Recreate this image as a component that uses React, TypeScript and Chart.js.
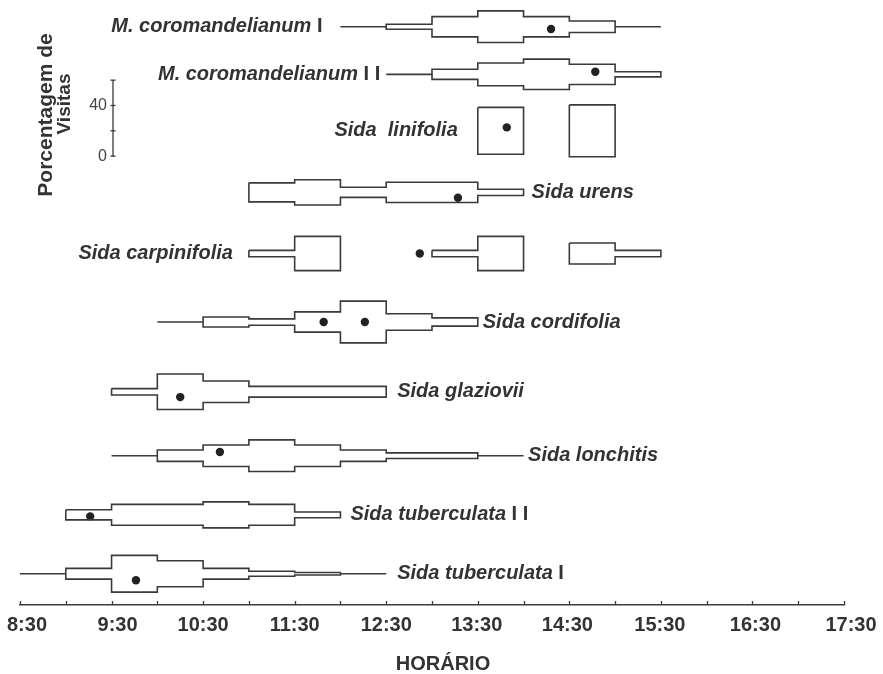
import { useEffect, useRef } from "react";
import { Chart, registerables } from "chart.js";

Chart.register(...registerables);

// Start of each half-hour observation slot, in decimal hours
const SLOT_STARTS = [8.5, 9, 9.5, 10, 10.5, 11, 11.5, 12, 12.5, 13, 13.5, 14, 14.5, 15, 15.5, 16, 16.5, 17];
const SLOT_LENGTH = 0.5;

// Hourly labels on the time axis
const TIME_LABELS = ["8:30", "9:30", "10:30", "11:30", "12:30", "13:30", "14:30", "15:30", "16:30", "17:30"];

// Percentage of visits in each slot (0 = flowers open, no visits; null = no flowers)
const _ = null;
const coromandelianumI = [_, _, _, _, _, _, _, 0, 4, 16, 25, 16, 9, 0, _, _, _, _];
const coromandelianumII = [_, _, _, _, _, _, _, _, 0, 8, 18, 24, 16, 4, _, _, _, _];
const linifolia = [_, _, _, _, _, _, _, _, _, _, 37, _, 41, _, _, _, _, _];
const urens = [_, _, _, _, _, 15, 20, 8, 16, 16, 5, _, _, _, _, _, _, _];
const carpinifolia = [_, _, _, _, _, 5, 27, _, _, 5, 27, _, 16.5, 5, _, _, _, _];
const cordifolia = [_, _, _, 0, 8, 5, 16, 33, 13, 6.5, _, _, _, _, _, _, _, _];
const glaziovii = [_, _, 5, 28, 17, 8.5, 8.5, 8.5, _, _, _, _, _, _, _, _, _, _];
const lonchitis = [_, _, 0, 9, 17, 25, 17, 9, 4.5, 4.5, 0, _, _, _, _, _, _, _];
const tuberculataII = [_, 8, 16.5, 16.5, 20.5, 16.5, 4.5, _, _, _, _, _, _, _, _, _, _, _];
const tuberculataI = [0, 8.5, 29, 20.5, 8.5, 4, 2, 0, _, _, _, _, _, _, _, _, _, _];

const VISITS = [
  coromandelianumI, coromandelianumII, linifolia, urens, carpinifolia,
  cordifolia, glaziovii, lonchitis, tuberculataII, tuberculataI,
];

const SPECIES = [
  "M. coromandelianum", "M. coromandelianum", "Sida  linifolia", "Sida urens", "Sida carpinifolia",
  "Sida cordifolia", "Sida glaziovii", "Sida lonchitis", "Sida tuberculata", "Sida tuberculata",
];
const POPULATION = ["I", "I I", "", "", "", "", "", "", "I I", "I"];

// Mean visiting time(s) per species
const MEAN_TIMES = [
  ["14:18"], ["14:47"], ["13:49"], ["13:17"], ["12:52"],
  ["11:49", "12:16"], ["10:15"], ["10:41"], ["9:16"], ["9:46"],
];

// Layout (vertical units are percent of visits, measured up from the time axis)
const Y_MAX = 474.5;
const ROW_BASE = [456.7, 419.1, 374.5, 325.9, 277.6, 223.5, 168.4, 117.9, 71.2, 24.7];
const LABEL_SIDE = ["left", "left", "left", "right", "left", "right", "right", "right", "right", "right"];
const LABEL_GAP = [18, 6, 20, 8, 16, 5, 11, 4.5, 10, 11];
const DOT_SHIFT = [-1.8, 2.1, 2.7, -4.3, 0, 0, -4.2, 2.9, -1.2, -5.1];
// horizontal nudge (px) of each time label from its tick
const TIME_LABEL_NUDGE = [7, 6, 0, 0, 0, -1, -2, -1, 3, 7];

// Width key for the kites
const KEY_TICKS = [0, 20, 40, 60];
const KEY_LABELS = ["0", "", "40", ""];
const KEY_BASE = 354.5;
const KEY_X = 113;

const INK = "#3a3a3a";
const FONT = '"Liberation Sans", Arial, Helvetica, sans-serif';

const toHours = (s: string) => {
  const [h, m] = s.split(":").map(Number);
  return h + m / 60;
};

type Pt = { x: number; y: number };

function kiteOutlines(values: (number | null)[], base: number): Pt[][] {
  const runs: { i: number; v: number }[][] = [];
  let cur: { i: number; v: number }[] | null = null;
  values.forEach((v, i) => {
    if (v == null) {
      if (cur) runs.push(cur);
      cur = null;
      return;
    }
    if (!cur) cur = [];
    cur.push({ i, v });
  });
  if (cur) runs.push(cur);
  return runs.map((run) => {
    const top: Pt[] = [];
    const bottom: Pt[] = [];
    run.forEach(({ i, v }) => {
      const x0 = SLOT_STARTS[i];
      const x1 = x0 + SLOT_LENGTH;
      top.push({ x: x0, y: base + v / 2 }, { x: x1, y: base + v / 2 });
      bottom.unshift({ x: x1, y: base - v / 2 }, { x: x0, y: base - v / 2 });
    });
    return [...top, ...bottom, top[0]];
  });
}

const decorPlugin = {
  id: "kiteDecor",
  beforeDraw(chart: any) {
    // shift the time labels slightly off their ticks
    const items = chart.scales.x.getLabelItems();
    items.forEach((item: any, i: number) => {
      if (!item._nudged && item.options && item.options.translation) {
        item.options.translation[0] += TIME_LABEL_NUDGE[i] || 0;
        item._nudged = true;
      }
    });
  },
  afterDraw(chart: any) {
    const { ctx, scales } = chart;
    const xs = scales.x;
    const ys = scales.y;
    const axisY = xs.top;
    ctx.save();

    // half-hour tick marks pointing up from the axis
    ctx.strokeStyle = INK;
    ctx.lineWidth = 1.3;
    [...SLOT_STARTS, SLOT_STARTS[SLOT_STARTS.length - 1] + SLOT_LENGTH].forEach((t) => {
      const px = Math.round(xs.getPixelForValue(t)) + 0.5;
      ctx.beginPath();
      ctx.moveTo(px, axisY);
      ctx.lineTo(px, axisY - 4);
      ctx.stroke();
    });

    // species names
    ctx.fillStyle = "#333";
    ctx.textBaseline = "middle";
    ctx.textAlign = "left";
    SPECIES.forEach((name, r) => {
      const vals = VISITS[r];
      let first = -1;
      let last = -1;
      vals.forEach((v, i) => {
        if (v != null) {
          if (first < 0) first = i;
          last = i;
        }
      });
      const yPx = ys.getPixelForValue(ROW_BASE[r]);
      const italic = `italic bold 20px ${FONT}`;
      const upright = `bold 20px ${FONT}`;
      ctx.font = italic;
      const nameW = ctx.measureText(name).width;
      const suffix = POPULATION[r] ? " " + POPULATION[r] : "";
      ctx.font = upright;
      const sufW = suffix ? ctx.measureText(suffix).width : 0;
      let x0: number;
      if (LABEL_SIDE[r] === "left") {
        x0 = xs.getPixelForValue(SLOT_STARTS[first]) - LABEL_GAP[r] - nameW - sufW;
      } else {
        x0 = xs.getPixelForValue(SLOT_STARTS[last] + SLOT_LENGTH) + LABEL_GAP[r];
      }
      ctx.font = italic;
      ctx.fillText(name, x0, yPx);
      if (suffix) {
        ctx.font = upright;
        ctx.fillText(suffix, x0 + nameW, yPx);
      }
    });

    // width key
    const keyTop = ys.getPixelForValue(KEY_BASE + KEY_TICKS[KEY_TICKS.length - 1]);
    const keyBottom = ys.getPixelForValue(KEY_BASE + KEY_TICKS[0]);
    ctx.strokeStyle = INK;
    ctx.lineWidth = 1.3;
    ctx.beginPath();
    ctx.moveTo(KEY_X, keyTop);
    ctx.lineTo(KEY_X, keyBottom);
    ctx.stroke();
    ctx.font = `16px ${FONT}`;
    ctx.fillStyle = "#444";
    ctx.textAlign = "right";
    KEY_TICKS.forEach((t, k) => {
      const py = ys.getPixelForValue(KEY_BASE + t);
      ctx.beginPath();
      ctx.moveTo(KEY_X - 2.5, py);
      ctx.lineTo(KEY_X + 2.5, py);
      ctx.stroke();
      if (KEY_LABELS[k]) ctx.fillText(KEY_LABELS[k], KEY_X - 6, py);
    });

    // vertical title of the key
    ctx.fillStyle = "#333";
    ctx.textAlign = "center";
    ctx.save();
    ctx.font = `bold 21px ${FONT}`;
    ctx.translate(46, 115);
    ctx.rotate(-Math.PI / 2);
    ctx.fillText("Porcentagem de", 0, 0);
    ctx.restore();
    ctx.save();
    ctx.font = `bold 19px ${FONT}`;
    ctx.translate(65, 104);
    ctx.rotate(-Math.PI / 2);
    ctx.fillText("Visitas", 0, 0);
    ctx.restore();

    // axis title
    ctx.font = `bold 20px ${FONT}`;
    ctx.fillText("HORÁRIO", 443, 664);
    ctx.restore();
  },
};

export default function App() {
  const canvasRef = useRef<HTMLCanvasElement | null>(null);

  useEffect(() => {
    const canvas = canvasRef.current;
    if (!canvas) return;

    const datasets: any[] = [];
    VISITS.forEach((vals, r) => {
      kiteOutlines(vals, ROW_BASE[r]).forEach((pts) => {
        datasets.push({
          data: pts,
          borderColor: INK,
          borderWidth: 1.6,
          pointRadius: 0,
          fill: false,
          tension: 0,
          borderJoinStyle: "miter",
          borderCapStyle: "butt",
        });
      });
    });
    const dots: Pt[] = [];
    MEAN_TIMES.forEach((times, r) => {
      times.forEach((t) => dots.push({ x: toHours(t), y: ROW_BASE[r] + DOT_SHIFT[r] }));
    });
    datasets.push({
      data: dots,
      showLine: false,
      pointRadius: 4.2,
      pointBorderWidth: 0,
      pointBackgroundColor: "#222",
      pointBorderColor: "#222",
    });

    const chart = new Chart(canvas, {
      type: "line",
      data: { datasets },
      options: {
        animation: false,
        responsive: false,
        devicePixelRatio: 1,
        events: [],
        layout: { padding: { left: 20, right: 39, top: 0, bottom: 0 } },
        plugins: { legend: { display: false }, tooltip: { enabled: false } },
        scales: {
          x: {
            type: "linear",
            min: toHours(TIME_LABELS[0]),
            max: toHours(TIME_LABELS[TIME_LABELS.length - 1]),
            afterFit: (s: any) => {
              s.height = 69;
              s.paddingLeft = 0;
              s.paddingRight = 0;
            },
            afterBuildTicks: (s: any) => {
              s.ticks = TIME_LABELS.map((l) => ({ value: toHours(l) }));
            },
            grid: { display: false, drawTicks: false },
            border: { display: true, color: INK, width: 1.5 },
            ticks: {
              autoSkip: false,
              maxRotation: 0,
              padding: 8,
              color: "#333",
              font: { family: FONT, size: 20, weight: "bold" },
              callback: (_v: any, i: number) => TIME_LABELS[i],
            },
          },
          y: { type: "linear", display: false, min: 0, max: Y_MAX },
        },
      },
      plugins: [decorPlugin],
    } as any);

    return () => chart.destroy();
  }, []);

  return (
    <div style={{ position: "absolute", left: 0, top: 0, width: 883, height: 674, background: "#fff" }}>
      <canvas ref={canvasRef} width={883} height={674} style={{ display: "block" }} />
    </div>
  );
}
